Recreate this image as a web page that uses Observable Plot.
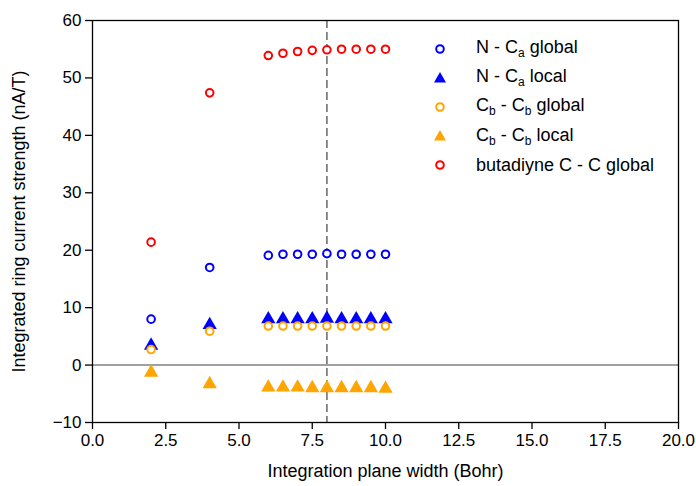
<!DOCTYPE html>
<html><head><meta charset="utf-8">
<script src="https://cdn.jsdelivr.net/npm/d3@7"></script>
<script src="https://cdn.jsdelivr.net/npm/@observablehq/plot@0.6"></script>
<style>
body{margin:0;background:#fff;font-family:"Liberation Sans",Arial,sans-serif;}
#wrap{position:relative;width:696px;height:486px;}
#legend{position:absolute;left:430px;top:34px;font-size:18px;color:#000;}
#legend .row{display:flex;align-items:center;height:29.2px;}
#legend svg{width:20px;height:20px;margin-right:26px;}
#legend sub{font-size:12px;vertical-align:-4px;color:#000;}
</style></head><body>
<div id="wrap"><div id="chart"></div><div id="legend"></div></div>
<script>
const widths = [2, 4, 6, 6.5, 7, 7.5, 8, 8.5, 9, 9.5, 10];
const nCaGlobal = [8.0, 17.0, 19.1, 19.3, 19.3, 19.3, 19.4, 19.3, 19.3, 19.3, 19.3];
const nCaLocal = [3.4, 7.0, 8.0, 8.0, 8.0, 8.0, 8.1, 8.0, 8.0, 8.0, 8.0];
const cbGlobal = [2.7, 5.9, 6.8, 6.8, 6.8, 6.8, 6.8, 6.8, 6.8, 6.8, 6.8];
const cbLocal = [-1.3, -3.3, -3.9, -3.9, -3.9, -4.0, -4.0, -4.0, -4.0, -4.0, -4.1];
const butadiyneGlobal = [21.4, 47.4, 53.9, 54.3, 54.6, 54.8, 54.9, 55.0, 55.0, 55.0, 55.0];
const xTicks = [0, 2.5, 5, 7.5, 10, 12.5, 15, 17.5, 20];
const yTicks = [-10, 0, 10, 20, 30, 40, 50, 60];
const refWidth = 8;

const series = [
  {key: "N - C<sub>a</sub> global", values: nCaGlobal, symbol: "circle", color: "#0000ff", hollow: true},
  {key: "N - C<sub>a</sub> local", values: nCaLocal, symbol: "triangle", color: "#0000ff", hollow: false},
  {key: "C<sub>b</sub> - C<sub>b</sub> global", values: cbGlobal, symbol: "circle", color: "#ffa500", hollow: true},
  {key: "C<sub>b</sub> - C<sub>b</sub> local", values: cbLocal, symbol: "triangle", color: "#ffa500", hollow: false},
  {key: "butadiyne C - C global", values: butadiyneGlobal, symbol: "circle", color: "#ff0000", hollow: true}
];

const dotMarks = series.map(s => {
  const data = widths.map((w, i) => ({x: w, y: s.values[i]}));
  return s.hollow
    ? Plot.dot(data, {x: "x", y: "y", r: 3.8, symbol: "circle", stroke: s.color, strokeWidth: 2, fill: "white"})
    : Plot.dot(data, {x: "x", y: "y", r: 5.3, symbol: "triangle", fill: s.color, stroke: "none"});
});

const chart = Plot.plot({
  width: 696, height: 486,
  marginLeft: 92, marginRight: 18, marginTop: 20, marginBottom: 64,
  style: {fontFamily: '"Liberation Sans", Arial, sans-serif', fontSize: "17px", color: "#000", background: "white"},
  x: {domain: [0, 20]},
  y: {domain: [-10, 60]},
  marks: [
    Plot.ruleY([0], {stroke: "#808080", strokeWidth: 1.6}),
    Plot.ruleX([refWidth], {stroke: "#808080", strokeWidth: 1.8, strokeDasharray: "8,4"}),
    ...dotMarks,
    Plot.frame({stroke: "black", strokeWidth: 1.3}),
    Plot.axisX({ticks: xTicks, tickFormat: d3.format(".1f"), tickSize: 7, tickPadding: 4, strokeWidth: 1.3, fontSize: 17,
      label: null}),
    Plot.axisX({ticks: [], label: "Integration plane width (Bohr)", labelAnchor: "center", labelArrow: "none", labelOffset: 54, fontSize: 18}),
    Plot.axisY({ticks: yTicks, tickSize: 7, tickPadding: 4, strokeWidth: 1.3, fontSize: 17, label: null}),
    Plot.axisY({ticks: [], label: "Integrated ring current strength (nA/T)", labelAnchor: "center", labelArrow: "none", labelOffset: 80, fontSize: 18})
  ]
});
document.getElementById("chart").appendChild(chart);

const leg = document.getElementById("legend");
for (const s of series) {
  const row = document.createElement("div");
  row.className = "row";
  const icon = s.hollow
    ? `<svg viewBox="0 0 20 20"><circle cx="10" cy="10" r="3.8" fill="white" stroke="${s.color}" stroke-width="2"/></svg>`
    : `<svg viewBox="0 0 20 20"><polygon points="10,4 16,14.5 4,14.5" fill="${s.color}"/></svg>`;
  row.innerHTML = icon + `<span>${s.key}</span>`;
  leg.appendChild(row);
}
</script>
</body></html>
